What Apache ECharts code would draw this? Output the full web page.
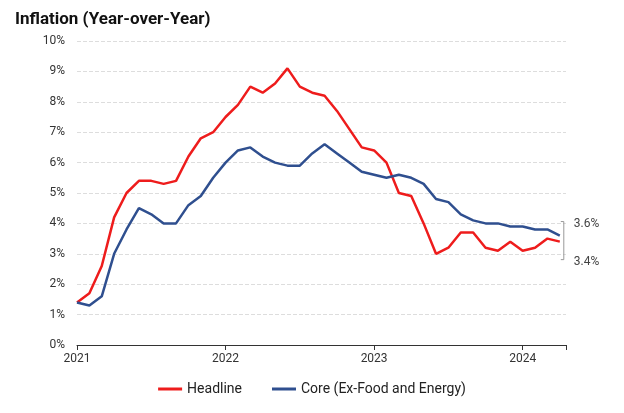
<!DOCTYPE html>
<html><head><meta charset="utf-8">
<script src="https://cdn.jsdelivr.net/npm/echarts@6/dist/echarts.min.js"></script>
<style>html,body{margin:0;padding:0;background:#fff}#c{width:624px;height:413px}</style>
</head><body><div id="c"></div>
<script>
const startYear = 2021;
const headline = [1.4,1.7,2.6,4.2,5.0,5.4,5.4,5.3,5.4,6.2,6.8,7.0,
  7.5,7.9,8.5,8.3,8.6,9.1,8.5,8.3,8.2,7.7,7.1,6.5,
  6.4,6.0,5.0,4.9,4.0,3.0,3.2,3.7,3.7,3.2,3.1,3.4,
  3.1,3.2,3.5,3.4];
const core = [1.4,1.3,1.6,3.0,3.8,4.5,4.3,4.0,4.0,4.6,4.9,5.5,
  6.0,6.4,6.5,6.2,6.0,5.9,5.9,6.3,6.6,6.3,6.0,5.7,
  5.6,5.5,5.6,5.5,5.3,4.8,4.7,4.3,4.1,4.0,4.0,3.9,
  3.9,3.8,3.8,3.6];
const toPairs = a => a.map((v,i)=>[i,v]);
const chart = echarts.init(document.getElementById('c'));
const font = 'Roboto';
chart.setOption({
  animation:false,
  textStyle:{fontFamily:font},
  title:{text:'Inflation (Year-over-Year)',left:10,top:6,textStyle:{fontSize:17,fontWeight:'bold',color:'#111',fontFamily:font}},
  grid:{left:77,right:58,top:41,bottom:68},
  xAxis:{type:'value',min:0,max:39.5,interval:12,
    axisLine:{show:true,lineStyle:{color:'#333'}},
    axisTick:{show:true,lineStyle:{color:'#333'}},
    splitLine:{show:false},
    axisLabel:{color:'#333',fontSize:12,formatter:v=>v%12===0?String(startYear+v/12):''}},
  yAxis:{type:'value',min:0,max:10,interval:1,
    axisLine:{show:false},axisTick:{show:false},
    axisLabel:{color:'#333',fontSize:12,margin:12,formatter:'{value}%'},
    splitLine:{lineStyle:{color:'#ddd',type:'dashed'}}},
  legend:{bottom:12,itemWidth:24,itemHeight:3,itemGap:30,icon:'rect',textStyle:{fontSize:14,color:'#222'},
    data:['Headline','Core (Ex-Food and Energy)']},
  series:[
    {name:'Headline',type:'line',data:toPairs(headline),showSymbol:false,
     lineStyle:{color:'#ee1c1c',width:2.5},itemStyle:{color:'#ee1c1c'},
     endLabel:{show:true,formatter:p=>p.value[1].toFixed(1)+'%',offset:[6,20],fontSize:12,color:'#444'}},
    {name:'Core (Ex-Food and Energy)',type:'line',data:toPairs(core),showSymbol:false,
     lineStyle:{color:'#2f4f8f',width:2.5},itemStyle:{color:'#2f4f8f'},
     endLabel:{show:true,formatter:p=>p.value[1].toFixed(1)+'%',offset:[6,-12],fontSize:12,color:'#444'}}
  ]
});
const p1 = chart.convertToPixel({gridIndex:0},[39,core[39]]);
const p2 = chart.convertToPixel({gridIndex:0},[39,headline[39]]);
chart.setOption({graphic:[{type:'polyline',shape:{points:[[p1[0]+1,p1[1]-14],[p1[0]+4,p1[1]-14],[p1[0]+4,p2[1]+18],[p2[0]+1,p2[1]+18]]},style:{stroke:'#999',lineWidth:1,fill:null}}]});
</script></body></html>
